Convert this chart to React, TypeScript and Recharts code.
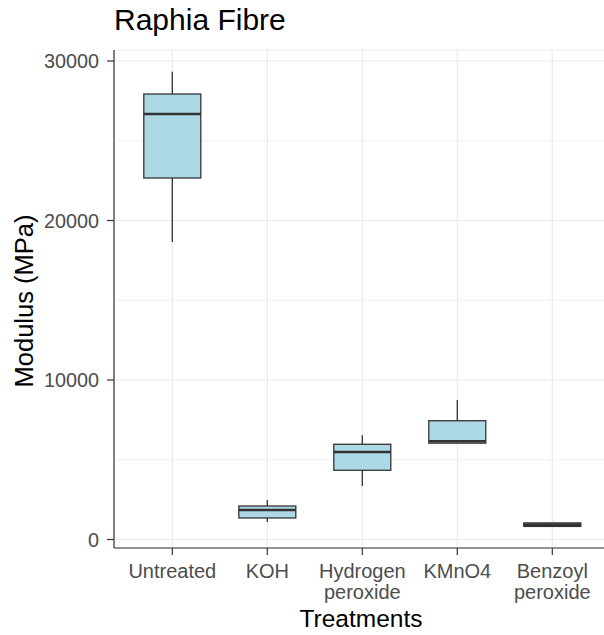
import React from 'react';
import { ComposedChart, Bar, XAxis, YAxis, CartesianGrid } from 'recharts';

const categories = ['Untreated', 'KOH', 'Hydrogen\nperoxide', 'KMnO4', 'Benzoyl\nperoxide'];
const whiskerLow = [18650, 1100, 3354, 6040, 800];
const quartile1 = [22665, 1350, 4339, 6040, 820];
const medians = [26680, 1850, 5486, 6157, 930];
const quartile3 = [27930, 2100, 5969, 7448, 1040];
const whiskerHigh = [29330, 2476, 6533, 8746, 1055];
const yTicks = [0, 10000, 20000, 30000];
const yMinorTicks = [5000, 15000, 25000];

const data = categories.map((name, i) => ({
  name,
  min: whiskerLow[i],
  q1: quartile1[i],
  median: medians[i],
  q3: quartile3[i],
  max: whiskerHigh[i],
}));

const FONT = '"Liberation Sans", Arial, sans-serif';
const DARK = '#333333';

const BoxShape = (props: any) => {
  const { x, y, width, height, payload } = props;
  if (payload == null || !isFinite(y) || !isFinite(height)) return null;
  const py = (v: number) => y + height * (1 - v / payload.max);
  const cx = x + width / 2;
  return (
    <g>
      <line x1={cx} x2={cx} y1={py(payload.max)} y2={py(payload.q3)} stroke={DARK} strokeWidth={1.3} />
      <line x1={cx} x2={cx} y1={py(payload.q1)} y2={py(payload.min)} stroke={DARK} strokeWidth={1.3} />
      <rect
        x={x}
        y={py(payload.q3)}
        width={width}
        height={Math.max(py(payload.q1) - py(payload.q3), 0.5)}
        fill="#ADD8E6"
        stroke={DARK}
        strokeWidth={1.3}
      />
      <line x1={x} x2={x + width} y1={py(payload.median)} y2={py(payload.median)} stroke={DARK} strokeWidth={2.6} />
    </g>
  );
};

const XTick = (props: any) => {
  const { x, y, payload } = props;
  const lines = String(payload.value).split('\n');
  return (
    <g>
      {lines.map((l, i) => (
        <text
          key={i}
          x={x}
          y={y + 23 + i * 21}
          textAnchor="middle"
          fill="#4D4D4D"
          fontSize={20}
          fontFamily={FONT}
        >
          {l}
        </text>
      ))}
    </g>
  );
};

export default function App() {
  return (
    <div style={{ width: 604, height: 635, overflow: 'hidden', position: 'fixed', left: 0, top: 0, background: '#fff' }}>
      <ComposedChart
        width={618}
        height={635}
        data={data}
        margin={{ top: 50, right: 7, bottom: 0, left: 0 }}
        barCategoryGap="20%"
      >
        <CartesianGrid stroke="#EBEBEB" strokeWidth={1.2} />
        <CartesianGrid stroke="#EBEBEB" strokeWidth={0.7} vertical={false} horizontalValues={yMinorTicks} />
        <XAxis
          dataKey="name"
          type="category"
          height={87}
          padding={{ left: 10.8, right: 11.2 }}
          axisLine={{ stroke: DARK, strokeWidth: 1.2 }}
          tickLine={{ stroke: DARK, strokeWidth: 1.2 }}
          tickSize={7}
          tickMargin={0}
          tick={<XTick />}
          interval={0}
        />
        <XAxis
          xAxisId="top"
          orientation="top"
          dataKey="name"
          height={0}
          tick={false}
          tickLine={false}
          axisLine={{ stroke: DARK, strokeWidth: 1.2 }}
        />
        <YAxis
          type="number"
          domain={[-533, 30690]}
          allowDataOverflow
          ticks={yTicks}
          width={114}
          axisLine={{ stroke: DARK, strokeWidth: 1.2 }}
          tickLine={{ stroke: DARK, strokeWidth: 1.2 }}
          tickSize={7}
          tickMargin={8}
          tick={{ fill: '#4D4D4D', fontSize: 19.8, fontFamily: FONT }}
        />
        <Bar
          dataKey={(d: any) => [0, d.max]}
          shape={<BoxShape />}
          fill="none"
          isAnimationActive={false}
        />
      </ComposedChart>
      <svg
        width={604}
        height={635}
        style={{ position: 'absolute', left: 0, top: 0, pointerEvents: 'none' }}
      >
        <text x={114} y={29.5} fontSize={30} fontFamily={FONT} fill="#000">
          Raphia Fibre
        </text>
        <text x={361} y={627} fontSize={24.5} fontFamily={FONT} fill="#000" textAnchor="middle">
          Treatments
        </text>
        <text
          x={0}
          y={0}
          fontSize={25.5}
          fontFamily={FONT}
          fill="#000"
          textAnchor="middle"
          transform="translate(33,301) rotate(-90)"
        >
          Modulus (MPa)
        </text>
      </svg>
    </div>
  );
}
